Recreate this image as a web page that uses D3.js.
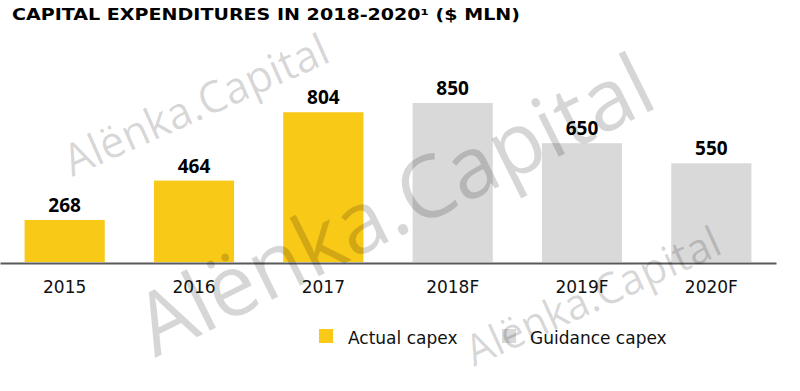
<!DOCTYPE html>
<html>
<head>
<meta charset="utf-8">
<script src="https://cdn.jsdelivr.net/npm/d3@7"></script>
<style>
  body { margin: 0; background: #fff; }
  svg { display: block; }
</style>
</head>
<body>
<svg id="chart"></svg>
<script>
// values
var years = ["2015", "2016", "2017", "2018F", "2019F", "2020F"]
var capex = [268, 464, 804, 850, 650, 550]
var kind = ["Actual", "Actual", "Actual", "Guidance", "Guidance", "Guidance"]
var legendLabels = ["Actual capex", "Guidance capex"]
var legendKinds = ["Actual", "Guidance"]

var dimensions = {
    width: 800,
    height: 391,
    axisY: 263,
    plotLeft: 0,
    plotRight: 776
}

var colors = { Actual: "#f9c918", Guidance: "#d9d9d9" }

var dataset = years.map(function (y, i) {
    return { year: y, value: capex[i], kind: kind[i] }
})

var svg = d3.select("#chart")
    .attr("width", dimensions.width)
    .attr("height", dimensions.height)

// title
svg.append("text")
    .attr("x", 12)
    .attr("y", 20)
    .attr("textLength", 508)
    .attr("lengthAdjust", "spacingAndGlyphs")
    .style("font-family", "DejaVu Sans")
    .style("font-weight", "bold")
    .style("font-size", "15.5px")
    .attr("fill", "#000")
    .text("CAPITAL EXPENDITURES IN 2018-2020¹ ($ MLN)")

// scales
var xScale = d3.scaleBand()
    .domain(years)
    .range([dimensions.plotLeft, dimensions.plotRight])
    .paddingInner(0.38)
    .paddingOuter(0.19)

// bars in the source do not start from zero, baseline sits a little above 0
var yScale = d3.scaleLinear()
    .domain([59, 850])
    .range([dimensions.axisY - 1, 103])

// bars
svg.append("g")
    .selectAll("rect")
    .data(dataset)
    .enter()
    .append("rect")
    .attr("x", d => xScale(d.year))
    .attr("y", d => yScale(d.value))
    .attr("width", xScale.bandwidth())
    .attr("height", d => yScale(59) - yScale(d.value))
    .attr("fill", d => colors[d.kind])

// value labels
svg.append("g")
    .selectAll("text")
    .data(dataset)
    .enter()
    .append("text")
    .attr("x", d => xScale(d.year) + xScale.bandwidth() / 2)
    .attr("y", d => yScale(d.value) - 8)
    .attr("text-anchor", "middle")
    .style("font-family", "Open Sans")
    .style("font-weight", "bold")
    .style("font-size", "19px")
    .attr("fill", "#000")
    .text(d => d.value)

// x axis
var xAxis = svg.append("g")
    .attr("transform", "translate(0," + dimensions.axisY + ")")
    .call(d3.axisBottom(xScale).tickSize(0).tickSizeOuter(0).tickPadding(18))

xAxis.select(".domain")
    .attr("stroke", "#595959")
    .attr("stroke-width", 2)

xAxis.selectAll("text")
    .style("font-family", "DejaVu Sans")
    .style("font-size", "17px")
    .attr("fill", "#111")

// legend
var legendX = [319, 502]
var legend = svg.append("g")
    .selectAll("g")
    .data(legendLabels)
    .enter()
    .append("g")
    .attr("transform", (d, i) => "translate(" + legendX[i] + ",329)")

legend.append("rect")
    .attr("width", 14)
    .attr("height", 14)
    .attr("fill", (d, i) => colors[legendKinds[i]])

legend.append("text")
    .attr("x", (d, i) => i == 0 ? 29 : 28)
    .attr("y", 15)
    .style("font-family", "DejaVu Sans")
    .style("font-size", "17px")
    .attr("fill", "#111")
    .text(d => d)

// watermarks
var marks = [
    { x: 72, y: 177, angle: -24, len: 285, size: 44 },
    { x: 155, y: 358, angle: -26.5, len: 565, size: 86 },
    { x: 474, y: 367, angle: -24.5, len: 275, size: 43 }
]

svg.append("g")
    .selectAll("text")
    .data(marks)
    .enter()
    .append("text")
    .attr("transform", d => "translate(" + d.x + "," + d.y + ") rotate(" + d.angle + ")")
    .attr("textLength", d => d.len)
    .attr("lengthAdjust", "spacingAndGlyphs")
    .style("font-family", "Open Sans")
    .style("font-size", d => d.size + "px")
    .attr("fill", "#000")
    .attr("fill-opacity", 0.16)
    .text("Alënka.Capital")
</script>
</body>
</html>
